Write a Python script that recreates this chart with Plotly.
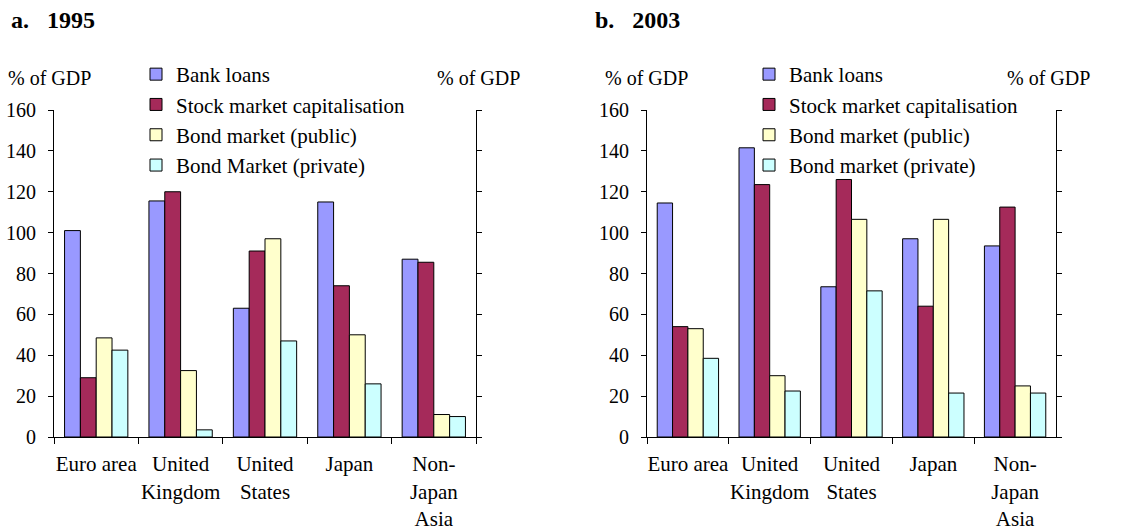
import plotly.graph_objects as go

categories = ["Euro area", "United<br>Kingdom", "United<br>States", "Japan", "Non-<br>Japan<br>Asia"]

series_names_a = ["Bank loans", "Stock market capitalisation", "Bond market (public)", "Bond Market (private)"]
series_names_b = ["Bank loans", "Stock market capitalisation", "Bond market (public)", "Bond market (private)"]

bank_1995 = [101, 115.5, 63, 115, 87]
stock_1995 = [29, 120, 91, 74, 85.5]
public_1995 = [48.5, 32.5, 97, 50, 11]
private_1995 = [42.5, 3.5, 47, 26, 10]

bank_2003 = [114.5, 141.5, 73.5, 97, 93.5]
stock_2003 = [54, 123.5, 126, 64, 112.5]
public_2003 = [53, 30, 106.5, 106.5, 25]
private_2003 = [38.5, 22.5, 71.5, 21.5, 21.5]

colors = ["#9999FF", "#A52A5A", "#FFFFCC", "#CCFFFF"]
FONT = "Liberation Serif"
W, H = 1124, 530

fig = go.Figure()

data_a = [bank_1995, stock_1995, public_1995, private_1995]
data_b = [bank_2003, stock_2003, public_2003, private_2003]

for name, vals, c in zip(series_names_a, data_a, colors):
    fig.add_trace(go.Bar(x=categories, y=vals, name=name, marker=dict(color=c, line=dict(color="black", width=1)),
                         xaxis="x", yaxis="y", legend="legend", offsetgroup=name))
for name, vals, c in zip(series_names_b, data_b, colors):
    fig.add_trace(go.Bar(x=categories, y=vals, name=name, marker=dict(color=c, line=dict(color="black", width=1)),
                         xaxis="x2", yaxis="y3", legend="legend2", offsetgroup=name + "b"))

ydom = [(H - 437) / H, (H - 110) / H]
xa = [54 / W, 476 / W]
xb = [647 / W, 1056 / W]

axis_font = dict(family=FONT, size=20, color="black")
cat_font = dict(family=FONT, size=21, color="black")

def xax(dom, anchor):
    return dict(domain=dom, anchor=anchor, type="category", showline=True, linecolor="black", linewidth=1,
                ticks="outside", tickson="boundaries", ticklen=6, tickcolor="black", showgrid=False,
                tickfont=cat_font, tickangle=0, ticklabelstandoff=8, automargin=False, zeroline=False)

def yleft(anchor):
    return dict(domain=ydom, anchor=anchor, range=[0, 160], dtick=20, showline=True, linecolor="black",
                linewidth=1, ticks="outside", ticklen=5, tickcolor="black", showgrid=False, zeroline=False,
                tickfont=axis_font, mirror="ticks", ticklabelstandoff=8, automargin=False)

def yright(anchor, overlay):
    return dict(domain=ydom, anchor=anchor, overlaying=overlay, side="right", range=[0, 160], dtick=20,
                showline=True, linecolor="black", linewidth=1, ticks="inside", ticklen=6, tickcolor="black",
                showgrid=False, zeroline=False, tickfont=axis_font, ticklabelstandoff=8, automargin=False)

legend_common = dict(font=dict(family=FONT, size=21, color="black"), bgcolor="rgba(0,0,0,0)",
                     yanchor="top", xanchor="left", orientation="v", tracegroupgap=0, itemclick=False)

fig.update_layout(
    width=W, height=H,
    margin=dict(l=0, r=0, t=0, b=0),
    paper_bgcolor="white", plot_bgcolor="white",
    font=dict(family=FONT, size=20, color="black"),
    barmode="group", bargap=0.25, bargroupgap=0,
    xaxis=xax(xa, "y"),
    yaxis=yleft("x"),
    yaxis2=yright("x", "y"),
    xaxis2=xax(xb, "y3"),
    yaxis3=yleft("x2"),
    yaxis4=yright("x2", "y3"),
    legend=dict(x=136 / W, y=(H - 54) / H, **legend_common),
    legend2=dict(x=749 / W, y=(H - 54) / H, **legend_common),
    showlegend=True,
)

ann = [
    dict(text="<b>a.&nbsp;&nbsp;&nbsp;1995</b>", x=9 / W, y=(H - 20) / H, xanchor="left", size=24),
    dict(text="<b>b.&nbsp;&nbsp;&nbsp;2003</b>", x=593 / W, y=(H - 20) / H, xanchor="left", size=24),
    dict(text="% of GDP", x=6 / W, y=(H - 78) / H, xanchor="left", size=20),
    dict(text="% of GDP", x=522 / W, y=(H - 78) / H, xanchor="right", size=20),
    dict(text="% of GDP", x=603 / W, y=(H - 78) / H, xanchor="left", size=20),
    dict(text="% of GDP", x=1092 / W, y=(H - 78) / H, xanchor="right", size=20),
]
for a in ann:
    fig.add_annotation(text=a["text"], x=a["x"], y=a["y"], xref="paper", yref="paper",
                       xanchor=a["xanchor"], yanchor="middle", showarrow=False,
                       font=dict(family=FONT, size=a["size"], color="black"))

fig.write_html("out.html", config={"displayModeBar": False},
               post_script="document.body.style.margin='0';document.body.style.overflow='hidden';")
